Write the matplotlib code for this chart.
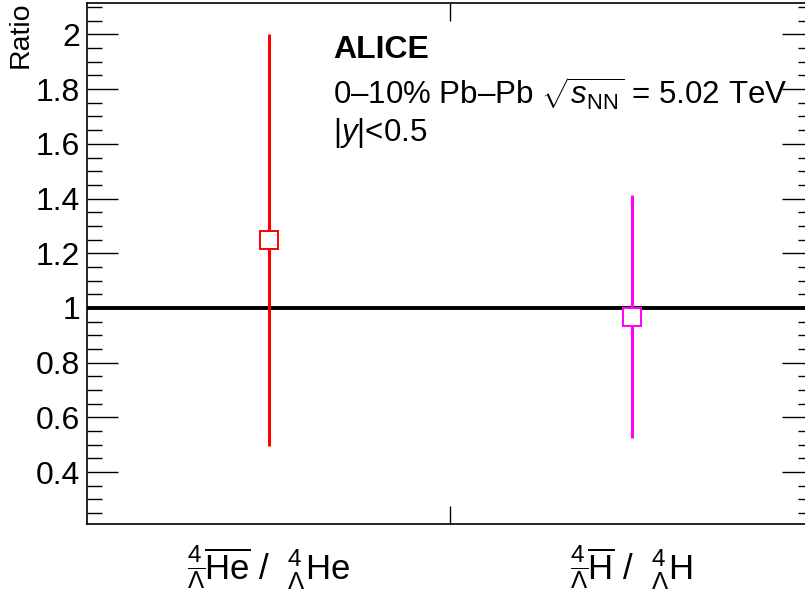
import matplotlib
matplotlib.use("Agg")
import matplotlib.pyplot as plt
from matplotlib.ticker import MultipleLocator, FixedLocator

plt.rcParams['font.family'] = ['Liberation Sans', 'DejaVu Sans']
plt.rcParams['mathtext.fontset'] = 'custom'
plt.rcParams['mathtext.rm'] = 'Liberation Sans'
plt.rcParams['mathtext.it'] = 'Liberation Sans:italic'
plt.rcParams['mathtext.bf'] = 'Liberation Sans:bold'

categories = [r"$^{4}_{\overline{\Lambda}}\overline{\mathrm{He}}$ /  $^{4}_{\Lambda}\mathrm{He}$",
              r"$^{4}_{\overline{\Lambda}}\overline{\mathrm{H}}$ /  $^{4}_{\Lambda}\mathrm{H}$"]
x_pos = [0.5, 1.5]
ratios = [1.247, 0.967]
err_low = [0.75, 0.443]
err_high = [0.753, 0.447]
colors = ['#ff0000', '#ff00ff']

fig = plt.figure(figsize=(8.05, 5.94), dpi=100)
W, H = 805, 594
ax = fig.add_axes([87 / W, 1 - 524 / H, (813 - 87) / W, (524 - 3) / H])

ax.axhline(1.0, color='black', lw=2.8, zorder=2)
for x, r, lo, hi, c in zip(x_pos, ratios, err_low, err_high, colors):
    ax.errorbar([x], [r], yerr=[[lo], [hi]], fmt='none', ecolor=c, elinewidth=2.2, capsize=0, zorder=3)
    ax.plot([x], [r], marker='s', ms=13, mfc='white', mec=c, mew=1.4, ls='none', zorder=4)

ax.set_xlim(0, 2)
ax.set_ylim(0.21, 2.115)
ax.xaxis.set_major_locator(FixedLocator([1.0]))
ax.xaxis.set_minor_locator(FixedLocator(x_pos))
ax.set_xticklabels([])
ax.set_xticklabels(categories, minor=True, fontsize=25)
ax.tick_params(axis='x', which='minor', length=0, pad=14)
ax.tick_params(axis='x', which='major', direction='in', length=13, width=1, top=True)

ax.yaxis.set_major_locator(MultipleLocator(0.2))
ax.yaxis.set_minor_locator(MultipleLocator(0.05))
ax.yaxis.set_major_formatter(matplotlib.ticker.FuncFormatter(lambda v, p: f"{v:g}"))
ax.tick_params(axis='y', which='major', direction='in', length=22, width=1, right=True, labelsize=23, pad=5)
ax.tick_params(axis='y', which='minor', direction='in', length=11, width=1, right=True)
for s in ax.spines.values():
    s.set_linewidth(1.2)

fig.text(8 / W, 1 - 1 / H, "Ratio", rotation=90, ha='left', va='top', fontsize=20.5)

fig.text(333 / W, 1 - 50 / H, "ALICE", fontsize=23, fontweight='bold', ha='left', va='center')
fig.text(333 / W, 1 - 94 / H, r"0–10% Pb–Pb $\sqrt{s_{\mathrm{NN}}}$ = 5.02 TeV", fontsize=22.5, ha='left', va='center')
fig.text(333 / W, 1 - 133 / H, r"|$y$|<0.5", fontsize=22.5, ha='left', va='center')

fig.savefig("out.png", dpi=100)
